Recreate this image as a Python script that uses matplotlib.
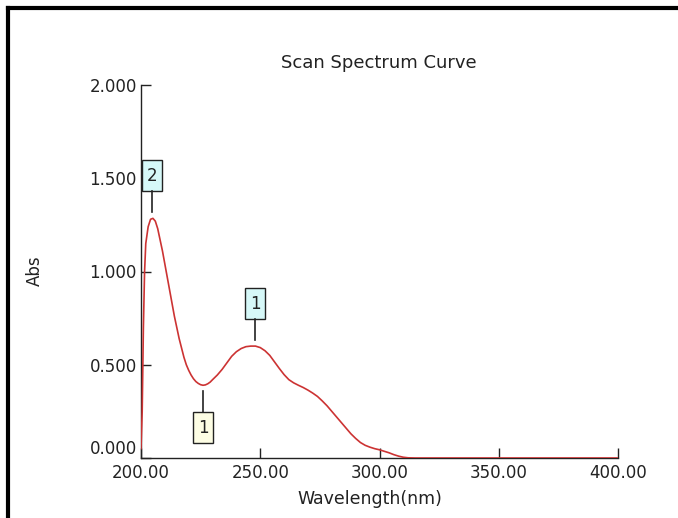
import matplotlib
matplotlib.use("Agg")
import matplotlib.pyplot as plt
from matplotlib.lines import Line2D
from matplotlib.patches import Rectangle
from matplotlib.transforms import ScaledTranslation
from matplotlib.ticker import FormatStrFormatter

wavelength = [200, 200.5, 201, 201.5, 202, 203, 204, 205, 206, 207, 208, 209, 210,
              211, 212, 213, 214, 215, 216, 217, 218, 219, 220, 221, 222, 223, 224,
              225, 226, 227, 228, 229, 230, 232, 234, 236, 238, 240, 242, 244, 246,
              248, 250, 252, 254, 256, 258, 260, 262, 264, 266, 268, 270, 272, 274,
              276, 278, 280, 282, 284, 286, 288, 290, 292, 294, 296, 298, 300, 302,
              304, 306, 308, 310, 312, 315, 330, 350, 370, 400]
absorbance = [0.05, 0.25, 0.70, 1.00, 1.15, 1.24, 1.28, 1.285, 1.27, 1.23, 1.17, 1.11, 1.04,
              0.97, 0.90, 0.83, 0.76, 0.70, 0.64, 0.59, 0.54, 0.50, 0.47, 0.445, 0.425, 0.41, 0.40,
              0.393, 0.39, 0.392, 0.398, 0.407, 0.42, 0.445, 0.475, 0.51, 0.545, 0.57, 0.587, 0.597, 0.60,
              0.60, 0.592, 0.575, 0.55, 0.515, 0.48, 0.447, 0.42, 0.403, 0.39, 0.378, 0.364, 0.348, 0.33,
              0.306, 0.28, 0.25, 0.22, 0.19, 0.16, 0.13, 0.105, 0.083, 0.068, 0.058, 0.05, 0.044, 0.036,
              0.028, 0.018, 0.010, 0.004, 0.001, 0.0, 0.0, 0.0, 0.0, 0.0]

peak_wl = [204.7, 247.8]
peak_abs = [1.285, 0.60]
peak_labels = ["2", "1"]
valley_wl = [226.1]
valley_abs = [0.39]
valley_labels = ["1"]

x_ticks = [200, 250, 300, 350, 400]
y_ticks = [0.0, 0.5, 1.0, 1.5, 2.0]

plt.rcParams['font.family'] = ['DejaVu Sans']
TXT = '#222222'

fig = plt.figure(figsize=(6.78, 5.18), dpi=100)
ax = fig.add_axes([141/678, 1-458/518, (618-141)/678, (458-85)/518])

ax.plot(wavelength, absorbance, color='#cc3333', lw=1.2, zorder=3)
ax.set_xlim(200, 400)
ax.set_ylim(0, 2.0)
ax.set_xticks(x_ticks)
ax.set_yticks(y_ticks)
ax.xaxis.set_major_formatter(FormatStrFormatter('%.2f'))
ax.yaxis.set_major_formatter(FormatStrFormatter('%.3f'))
ax.tick_params(direction='in', length=7.5, width=1, labelsize=12, colors=TXT)
ax.tick_params(axis='y', pad=3)
ax.tick_params(axis='x', pad=4)
for s in ['top', 'right']:
    ax.spines[s].set_visible(False)
for s in ['left', 'bottom']:
    ax.spines[s].set_linewidth(1)
    ax.spines[s].set_color(TXT)
ylabels = ax.get_yticklabels()
ylabels[0].set_va('bottom')

fig.text(378.5/678, 1-63/518, 'Scan Spectrum Curve', fontsize=13, color=TXT,
         ha='center', va='center')
fig.text(370/678, 1-499/518, 'Wavelength(nm)', fontsize=12.5, color=TXT,
         ha='center', va='center')
fig.text(35/678, 1-271/518, 'Abs', fontsize=12, color=TXT, rotation=90,
         ha='center', va='center')

BOX_W, BOX_H, GAP, LINE_GAP = 20, 31, 27, 6  # pixels


def marker_box(wl, a, lab, up, fc):
    trans = fig.dpi_scale_trans + ScaledTranslation(wl, a, ax.transData)
    d = 1 / fig.dpi
    if up:
        y0, y1 = GAP, GAP + BOX_H
        ly0, ly1 = LINE_GAP, GAP
    else:
        y0, y1 = -GAP - BOX_H, -GAP
        ly0, ly1 = -LINE_GAP, -GAP
    ax.add_patch(Rectangle((-BOX_W / 2 * d, y0 * d), BOX_W * d, BOX_H * d,
                           transform=trans, fc=fc, ec=TXT, lw=1, clip_on=False, zorder=4))
    ax.add_line(Line2D([0, 0], [ly0 * d, ly1 * d], transform=trans, color=TXT,
                       lw=1.2, clip_on=False, zorder=4))
    ax.text(0, (y0 + y1) / 2 * d, lab, transform=trans, ha='center', va='center',
            fontsize=12, color=TXT, zorder=5, clip_on=False)


for wl, a, lab in zip(peak_wl, peak_abs, peak_labels):
    marker_box(wl, a, lab, True, '#d6f8f8')
for wl, a, lab in zip(valley_wl, valley_abs, valley_labels):
    marker_box(wl, a, lab, False, '#fdfde4')

fig.add_artist(Line2D([8/678, 1.0], [1-8/518, 1-8/518], color='black', lw=3,
                      transform=fig.transFigure))
fig.add_artist(Line2D([8/678, 8/678], [0, 1-8/518], color='black', lw=3,
                      transform=fig.transFigure))

fig.savefig('out.png', dpi=100)
